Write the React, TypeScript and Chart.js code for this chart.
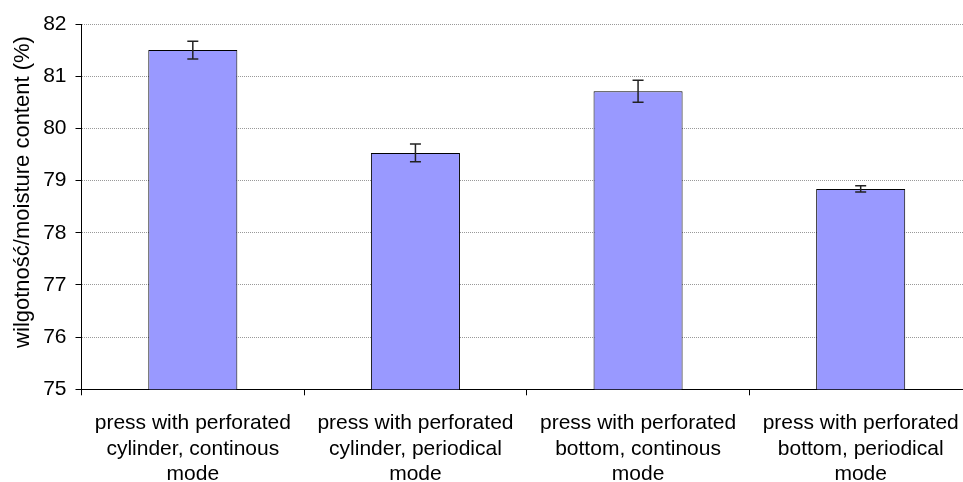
import React, { useEffect, useRef } from "react";
import { Chart, registerables } from "chart.js";

Chart.register(...registerables);

const categories: string[][] = [
  ["press with perforated", "cylinder, continous", "mode"],
  ["press with perforated", "cylinder, periodical", "mode"],
  ["press with perforated", "bottom, continous", "mode"],
  ["press with perforated", "bottom, periodical", "mode"],
];
const moisture: number[] = [81.5, 79.53, 80.71, 78.84];
const errors: number[] = [0.17, 0.17, 0.21, 0.06];
const yTitle = "wilgotność/moisture content (%)";

const FONT = "'Liberation Sans', Arial, sans-serif";

const errorBarPlugin = {
  id: "errorBars",
  afterDatasetsDraw(chart: any) {
    const ctx = chart.ctx;
    const meta = chart.getDatasetMeta(0);
    const y = chart.scales.y;
    ctx.save();
    ctx.strokeStyle = "#222";
    ctx.lineWidth = 1.5;
    meta.data.forEach((bar: any, i: number) => {
      const x = bar.x;
      const v = moisture[i];
      const e = errors[i];
      const yTop = y.getPixelForValue(v + e);
      const yBot = y.getPixelForValue(v - e);
      const cap = 5.5;
      ctx.beginPath();
      ctx.moveTo(x, yTop);
      ctx.lineTo(x, yBot);
      ctx.moveTo(x - cap, yTop);
      ctx.lineTo(x + cap, yTop);
      ctx.moveTo(x - cap, yBot);
      ctx.lineTo(x + cap, yBot);
      ctx.stroke();
    });
    ctx.restore();
  },
};

const yTitlePlugin = {
  id: "yTitleText",
  afterDraw(chart: any) {
    const ctx = chart.ctx;
    ctx.save();
    ctx.translate(23, 192);
    ctx.rotate(-Math.PI / 2);
    ctx.fillStyle = "#000";
    ctx.font = `22px ${FONT}`;
    ctx.textAlign = "center";
    ctx.textBaseline = "middle";
    ctx.fillText(yTitle, 0, 0);
    ctx.restore();
  },
};

export default function App() {
  const ref = useRef<HTMLCanvasElement | null>(null);
  useEffect(() => {
    if (!ref.current) return;
    const chart = new Chart(ref.current, {
      type: "bar",
      data: {
        labels: categories,
        datasets: [
          {
            data: moisture,
            backgroundColor: "#9999FF",
            borderColor: "#000000",
            borderWidth: 1,
            categoryPercentage: 1,
            barPercentage: 0.4,
          },
        ],
      },
      options: {
        responsive: false,
        animation: false,
        layout: { padding: { top: 24, right: 8, bottom: 0, left: 0 } },
        plugins: {
          legend: { display: false },
          tooltip: { enabled: false },
        },
        scales: {
          x: {
            offset: true,
            afterFit: (s: any) => {
              s.height = 110.7;
            },
            grid: {
              display: true,
              offset: true,
              drawOnChartArea: false,
              drawTicks: true,
              tickLength: 6,
              tickColor: "#000",
            },
            border: { display: true, color: "#000", width: 1 },
            ticks: {
              color: "#000",
              font: { family: FONT, size: 21, lineHeight: 1.22 },
              padding: 15,
              maxRotation: 0,
              autoSkip: false,
            },
          },
          y: {
            min: 75,
            max: 82,
            afterFit: (s: any) => {
              s.width = 81.5;
            },
            grid: {
              color: "#999999",
              lineWidth: 1,
              drawTicks: true,
              tickLength: 6,
              tickColor: "#000",
            },
            border: { display: true, color: "#000", width: 1, dash: [1, 1] },
            ticks: {
              stepSize: 1,
              color: "#000",
              font: { family: FONT, size: 21 },
              padding: 9,
            },
            title: { display: false },
          },
        },
      },
      plugins: [errorBarPlugin, yTitlePlugin],
    });
    return () => chart.destroy();
  }, []);
  return (
    <div
      style={{
        position: "absolute",
        left: 0,
        top: 0,
        width: 963,
        height: 482,
        overflow: "hidden",
        background: "#fff",
      }}
    >
      <canvas ref={ref} width={980} height={500} style={{ width: 980, height: 500, display: "block" }} />
    </div>
  );
}
